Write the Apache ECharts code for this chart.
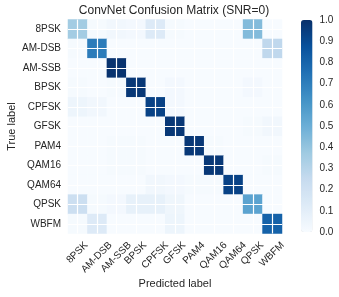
<!DOCTYPE html>
<html><head><meta charset="utf-8">
<script src="https://cdn.jsdelivr.net/npm/echarts@6/dist/echarts.min.js"></script>
<style>html,body{margin:0;padding:0;background:#fff}#c{width:339px;height:297px}</style>
</head><body><div id="c"></div>
<script>
// ---- data ----
const classes = ['8PSK','AM-DSB','AM-SSB','BPSK','CPFSK','GFSK','PAM4','QAM16','QAM64','QPSK','WBFM'];
// rows: true label, columns: predicted label (same order as classes)
const row8PSK  = [0.36, 0.01, 0.03, 0.02, 0.13, 0.01, 0.00, 0.00, 0.00, 0.44, 0.00];
const rowAMDSB = [0.01, 0.71, 0.00, 0.00, 0.00, 0.00, 0.00, 0.00, 0.00, 0.00, 0.27];
const rowAMSSB = [0.00, 0.00, 0.99, 0.00, 0.00, 0.00, 0.00, 0.00, 0.00, 0.00, 0.00];
const rowBPSK  = [0.01, 0.00, 0.01, 0.97, 0.00, 0.02, 0.00, 0.00, 0.00, 0.02, 0.00];
const rowCPFSK = [0.05, 0.03, 0.00, 0.00, 0.93, 0.02, 0.00, 0.00, 0.00, 0.00, 0.00];
const rowGFSK  = [0.00, 0.00, 0.00, 0.00, 0.00, 0.97, 0.00, 0.00, 0.00, 0.01, 0.03];
const rowPAM4  = [0.00, 0.00, 0.01, 0.01, 0.00, 0.00, 0.97, 0.01, 0.00, 0.00, 0.00];
const rowQAM16 = [0.00, 0.00, 0.01, 0.01, 0.00, 0.00, 0.00, 0.97, 0.00, 0.00, 0.01];
const rowQAM64 = [0.00, 0.00, 0.00, 0.00, 0.03, 0.02, 0.01, 0.01, 0.93, 0.00, 0.00];
const rowQPSK  = [0.22, 0.01, 0.02, 0.08, 0.08, 0.04, 0.00, 0.00, 0.00, 0.55, 0.00];
const rowWBFM  = [0.01, 0.13, 0.00, 0.00, 0.00, 0.05, 0.00, 0.00, 0.00, 0.00, 0.81];
const colorbarMin = 0.0, colorbarMax = 1.0, colorbarStep = 0.1;

// ---- build ----
const rows = [row8PSK,rowAMDSB,rowAMSSB,rowBPSK,rowCPFSK,rowGFSK,rowPAM4,rowQAM16,rowQAM64,rowQPSK,rowWBFM];
const cells = [];
rows.forEach((r, yi) => r.forEach((v, xi) => cells.push([xi, yi, v])));

const BLUES = ['#f7fbff','#deebf7','#c6dbef','#9ecae1','#6baed6','#4292c6','#2171b5','#08519c','#08306b'];
const FONT = '"Liberation Sans", Arial, sans-serif';
const TXT = '#262626';

// x tick labels: emulate matplotlib rotation=45, ha=center, va=top
const cv = document.createElement('canvas').getContext('2d');
cv.font = '10px "Liberation Sans"';
const rich = {};
const S2 = Math.SQRT2;
classes.forEach((c, i) => {
  const w = cv.measureText(c).width;
  const h = 11.5;
  const dx = -0.5;
  const dy = 6 + (w + h) / (2 * S2);
  const s = (dx + dy) / S2, r = (dx - dy) / S2;
  rich['l' + i] = {
    fontFamily: FONT, fontSize: 10, color: TXT,
    padding: [Math.max(0, 2*s), Math.max(0, -2*r), Math.max(0, -2*s), Math.max(0, 2*r)]
  };
});

const gridLines = [];
classes.forEach(c => { gridLines.push({xAxis: c}); gridLines.push({yAxis: c}); });

const chart = echarts.init(document.getElementById('c'), null, {renderer: 'canvas'});
chart.setOption({
  animation: false,
  backgroundColor: '#fff',
  textStyle: {fontFamily: FONT},
  title: {
    text: 'ConvNet Confusion Matrix (SNR=0)',
    left: 174, top: 5, padding: 0, textAlign: 'center',
    textStyle: {fontFamily: FONT, fontSize: 12, fontWeight: 'normal', color: TXT}
  },
  grid: [
    {left: 68, top: 19.5, width: 214, height: 214, outerBoundsMode: 'none'},
    {left: 301, top: 20, width: 11.5, height: 212, outerBoundsMode: 'none'}
  ],
  xAxis: [
    {
      type: 'category', data: classes, gridIndex: 0,
      axisLine: {show: false}, axisTick: {show: false}, splitLine: {show: false},
      axisLabel: {
        interval: 0, rotate: 45, margin: 0, align: 'center', verticalAlign: 'middle',
        fontFamily: FONT, fontSize: 10, color: TXT,
        formatter: (v, i) => '{l' + i + '|' + v + '}', rich: rich
      },
      name: 'Predicted label', nameLocation: 'middle', nameGap: 45, nameMoveOverlap: false,
      nameTextStyle: {fontFamily: FONT, fontSize: 11, color: TXT}
    },
    {type: 'value', gridIndex: 1, show: false, min: 0, max: 1}
  ],
  yAxis: [
    {
      type: 'category', data: classes, inverse: true, gridIndex: 0,
      axisLine: {show: false}, axisTick: {show: false}, splitLine: {show: false},
      axisLabel: {interval: 0, margin: 7, fontFamily: FONT, fontSize: 10, color: TXT},
      name: 'True label', nameLocation: 'middle', nameGap: 51, nameMoveOverlap: false,
      nameTextStyle: {fontFamily: FONT, fontSize: 11, color: TXT}
    },
    {
      type: 'value', gridIndex: 1, position: 'right',
      min: colorbarMin, max: colorbarMax, interval: colorbarStep,
      axisLine: {show: false}, axisTick: {show: false}, splitLine: {show: false},
      axisLabel: {margin: 7, fontFamily: FONT, fontSize: 10, color: TXT,
        formatter: v => v.toFixed(1)}
    }
  ],
  visualMap: {
    type: 'continuous', seriesIndex: 0, dimension: 2,
    min: colorbarMin, max: colorbarMax,
    inRange: {color: BLUES},
    calculable: false, hoverLink: false,
    orient: 'vertical', left: 301, top: 20, padding: 0,
    itemWidth: 11.5, itemHeight: 212, text: null, textGap: 0
  },
  series: [{
    type: 'heatmap', xAxisIndex: 0, yAxisIndex: 0,
    data: cells,
    itemStyle: {borderWidth: 0},
    emphasis: {disabled: true},
    markLine: {
      silent: true, symbol: ['none', 'none'],
      label: {show: false},
      lineStyle: {color: '#ffffff', width: 1.2, type: 'solid', opacity: 1},
      emphasis: {disabled: true},
      data: gridLines
    }
  }]
});
</script></body></html>
